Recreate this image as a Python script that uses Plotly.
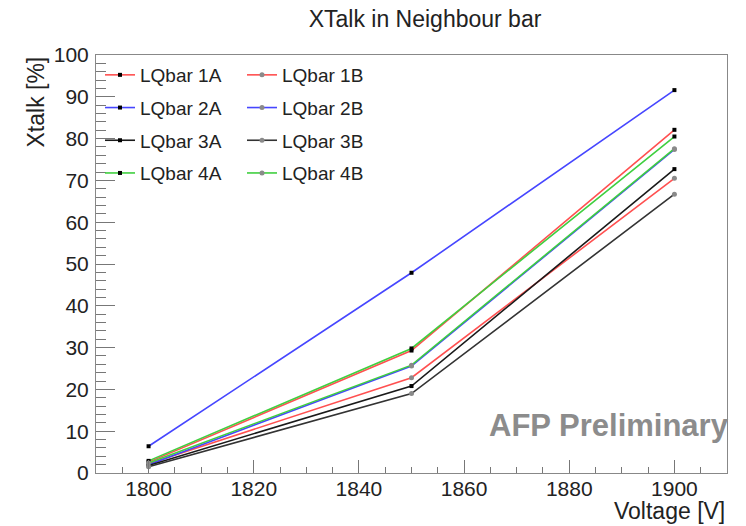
import plotly.graph_objects as go

# Bias voltage scan points
voltage = [1800, 1850, 1900]

# Crosstalk into the neighbouring bar, in percent
xtalk_1A = [2.6, 29.3, 82.1]
xtalk_1B = [2.2, 22.8, 70.5]
xtalk_2A = [6.4, 47.9, 91.6]
xtalk_2B = [2.0, 25.6, 77.4]
xtalk_3A = [1.8, 20.8, 72.7]
xtalk_3B = [1.5, 19.0, 66.7]
xtalk_4A = [2.9, 29.8, 80.5]
xtalk_4B = [2.4, 25.8, 77.6]

x_ticks = [1800, 1820, 1840, 1860, 1880, 1900]
y_ticks = [0, 10, 20, 30, 40, 50, 60, 70, 80, 90, 100]

RED = "#ff5050"
BLUE = "#4646ff"
GREEN = "#3fcf3f"
BLACK = "#1a1a1a"
GREY_MARK = "#8a8a8a"

FONT = "Liberation Sans, Arial, Helvetica, sans-serif"

series = [
    ("LQbar 1A", xtalk_1A, RED, "A"),
    ("LQbar 1B", xtalk_1B, RED, "B"),
    ("LQbar 2A", xtalk_2A, BLUE, "A"),
    ("LQbar 2B", xtalk_2B, BLUE, "B"),
    ("LQbar 3A", xtalk_3A, BLACK, "A"),
    ("LQbar 3B", xtalk_3B, "#333333", "B"),
    ("LQbar 4A", xtalk_4A, GREEN, "A"),
    ("LQbar 4B", xtalk_4B, GREEN, "B"),
]

fig = go.Figure()
for name, vals, color, side in series:
    if side == "A":
        marker = dict(symbol="square", size=4, color="black")
        leg = "legend"
    else:
        marker = dict(symbol="circle", size=5, color=GREY_MARK)
        leg = "legend2"
    fig.add_trace(go.Scatter(
        x=voltage, y=vals, name=name, mode="lines+markers",
        line=dict(color=color, width=1.6),
        marker=marker, legend=leg, legendgroup=name,
    ))

W, H = 746, 526
L, R, T, B = 96, 19, 55, 53
pw, ph = W - L - R, H - T - B


def px_x(px):
    return (px - L) / pw


def px_y(py):
    return (H - B - py) / ph


legend_style = dict(
    bgcolor="rgba(255,255,255,0)", borderwidth=0,
    font=dict(family=FONT, size=19, color="#222"),
    tracegroupgap=5, itemwidth=30,
    xanchor="left", yanchor="top",
)

fig.update_layout(
    width=W, height=H,
    margin=dict(l=L, r=R, t=T, b=B),
    paper_bgcolor="white", plot_bgcolor="white",
    font=dict(family=FONT, color="#222"),
    showlegend=True,
    legend=dict(x=px_x(100), y=px_y(56), **legend_style),
    legend2=dict(x=px_x(242), y=px_y(56), **legend_style),
    title=dict(text="XTalk in Neighbour bar", x=425 / W, xanchor="center",
               y=1 - 19 / H, yanchor="middle",
               font=dict(family=FONT, size=23, color="#222")),
    xaxis=dict(
        range=[1790, 1910], tickvals=x_ticks,
        ticks="inside", ticklen=13, tickcolor="#777", tickwidth=1,
        minor=dict(ticks="inside", ticklen=6, dtick=5, tick0=1790,
                   tickcolor="#777", tickwidth=1),
        showline=True, linecolor="#888", linewidth=1, mirror=True,
        showgrid=False, zeroline=False,
        tickfont=dict(family=FONT, size=21, color="#222"),
        ticklabelstandoff=-3,
    ),
    yaxis=dict(
        range=[0, 100], tickvals=y_ticks,
        ticks="inside", ticklen=19, tickcolor="#777", tickwidth=1,
        minor=dict(ticks="inside", ticklen=10, dtick=2, tick0=0,
                   tickcolor="#777", tickwidth=1),
        showline=True, linecolor="#888", linewidth=1, mirror=True,
        showgrid=False, zeroline=False,
        tickfont=dict(family=FONT, size=21, color="#222"),
        ticklabelstandoff=2,
    ),
)

# Axis titles, ROOT style: right-aligned at the axis end
fig.add_annotation(text="Xtalk [%]", textangle=-90, showarrow=False,
                   xref="paper", yref="paper", x=px_x(35), y=1.0,
                   xanchor="center", yanchor="top",
                   font=dict(family=FONT, size=23, color="#222"))
fig.add_annotation(text="Voltage [V]", showarrow=False,
                   xref="paper", yref="paper", x=1.0, y=px_y(526),
                   xanchor="right", yanchor="bottom",
                   font=dict(family=FONT, size=23, color="#222"))
fig.add_annotation(text="<b>AFP Preliminary</b>", showarrow=False,
                   xref="paper", yref="paper", x=px_x(731), y=px_y(425),
                   xanchor="right", yanchor="middle",
                   font=dict(family=FONT, size=31, color="#8c8c8c"))

fig.write_html("out.html")
